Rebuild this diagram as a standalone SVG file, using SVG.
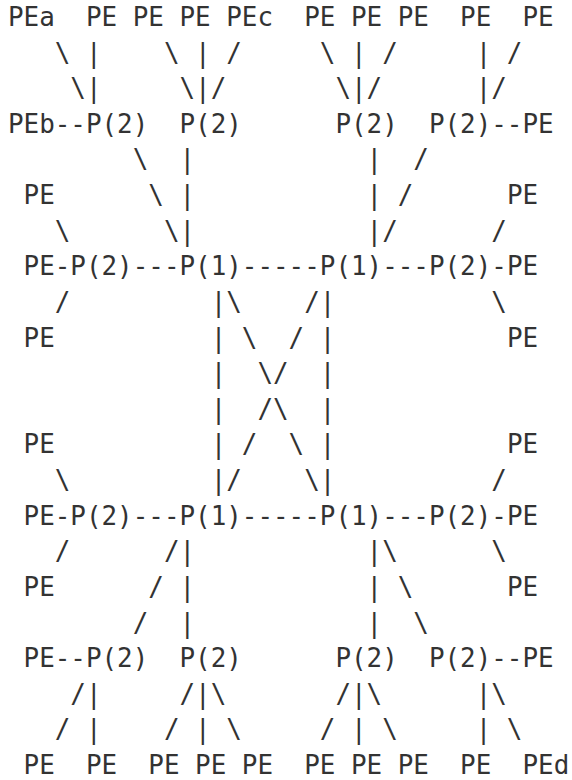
<svg xmlns="http://www.w3.org/2000/svg" width="572" height="780" viewBox="0 0 572 780">
  <style>
    text { font-family: "DejaVu Sans Mono", "Liberation Mono", monospace; font-size: 25.9px; fill: #333; white-space: pre; }
  </style>
  <rect width="572" height="780" fill="#fff"/>

  <!-- connectors: ASCII link characters on a 15.59px column grid -->
  <g id="connectors" xml:space="preserve">
    <!-- top fan-in -->
    <text x="54.77" y="61.62">\ |</text>
    <text x="163.9" y="61.62">\ | /</text>
    <text x="319.8" y="61.62">\ | /</text>
    <text x="475.7" y="61.62">| /</text>
    <text x="70.36" y="97.24">\|</text>
    <text x="179.49" y="97.24">\|/</text>
    <text x="335.39" y="97.24">\|/</text>
    <text x="475.7" y="97.24">|/</text>
    <text x="54.77" y="132.86">--</text>
    <text x="491.29" y="132.86">--</text>
    <!-- upper P(2) to P(1) -->
    <text x="132.72" y="168.48">\  |</text>
    <text x="366.57" y="168.48">|  /</text>
    <text x="148.31" y="204.1">\ |</text>
    <text x="366.57" y="204.1">| /</text>
    <text x="54.77" y="239.72">\</text>
    <text x="163.9" y="239.72">\|</text>
    <text x="366.57" y="239.72">|/</text>
    <text x="491.29" y="239.72">/</text>
    <!-- upper core links -->
    <text x="54.77" y="275.34">-</text>
    <text x="132.72" y="275.34">---</text>
    <text x="241.85" y="275.34">-----</text>
    <text x="382.16" y="275.34">---</text>
    <text x="491.29" y="275.34">-</text>
    <!-- cross between core rows -->
    <text x="54.77" y="310.96">/</text>
    <text x="210.67" y="310.96">|\    /|</text>
    <text x="491.29" y="310.96">\</text>
    <text x="210.67" y="346.58">| \  / |</text>
    <text x="210.67" y="382.2">|  \/  |</text>
    <text x="210.67" y="417.82">|  /\  |</text>
    <text x="210.67" y="453.44">| /  \ |</text>
    <text x="54.77" y="489.06">\</text>
    <text x="210.67" y="489.06">|/    \|</text>
    <text x="491.29" y="489.06">/</text>
    <!-- lower core links -->
    <text x="54.77" y="524.68">-</text>
    <text x="132.72" y="524.68">---</text>
    <text x="241.85" y="524.68">-----</text>
    <text x="382.16" y="524.68">---</text>
    <text x="491.29" y="524.68">-</text>
    <!-- lower P(1) to P(2) -->
    <text x="54.77" y="560.3">/</text>
    <text x="163.9" y="560.3">/|</text>
    <text x="366.57" y="560.3">|\</text>
    <text x="491.29" y="560.3">\</text>
    <text x="148.31" y="595.92">/ |</text>
    <text x="366.57" y="595.92">| \</text>
    <text x="132.72" y="631.54">/  |</text>
    <text x="366.57" y="631.54">|  \</text>
    <text x="54.77" y="667.16">--</text>
    <text x="491.29" y="667.16">--</text>
    <!-- bottom fan-out -->
    <text x="70.36" y="702.78">/|</text>
    <text x="179.49" y="702.78">/|\</text>
    <text x="335.39" y="702.78">/|\</text>
    <text x="475.7" y="702.78">|\</text>
    <text x="54.77" y="738.4">/ |</text>
    <text x="163.9" y="738.4">/ | \</text>
    <text x="319.8" y="738.4">/ | \</text>
    <text x="475.7" y="738.4">| \</text>
  </g>

  <!-- top row of PEs -->
  <g id="pe-a"><text x="8" y="26">PEa</text></g>
  <g id="pe-t1"><text x="85.95" y="26">PE</text></g>
  <g id="pe-t2"><text x="132.72" y="26">PE</text></g>
  <g id="pe-t3"><text x="179.49" y="26">PE</text></g>
  <g id="pe-c"><text x="226.26" y="26">PEc</text></g>
  <g id="pe-t4"><text x="304.21" y="26">PE</text></g>
  <g id="pe-t5"><text x="350.98" y="26">PE</text></g>
  <g id="pe-t6"><text x="397.75" y="26">PE</text></g>
  <g id="pe-t7"><text x="460.11" y="26">PE</text></g>
  <g id="pe-t8"><text x="522.47" y="26">PE</text></g>

  <!-- upper P(2) row -->
  <g id="pe-b"><text x="8" y="132.86">PEb</text></g>
  <g id="p2-u1"><text x="85.95" y="132.86">P(2)</text></g>
  <g id="p2-u2"><text x="179.49" y="132.86">P(2)</text></g>
  <g id="p2-u3"><text x="335.39" y="132.86">P(2)</text></g>
  <g id="p2-u4"><text x="428.93" y="132.86">P(2)</text></g>
  <g id="pe-u-r"><text x="522.47" y="132.86">PE</text></g>

  <!-- upper core row -->
  <g id="pe-l1"><text x="23.59" y="204.1">PE</text></g>
  <g id="pe-r1"><text x="506.88" y="204.1">PE</text></g>
  <g id="pe-l2"><text x="23.59" y="275.34">PE</text></g>
  <g id="p2-l-up"><text x="70.36" y="275.34">P(2)</text></g>
  <g id="p1-ul"><text x="179.49" y="275.34">P(1)</text></g>
  <g id="p1-ur"><text x="319.8" y="275.34">P(1)</text></g>
  <g id="p2-r-up"><text x="428.93" y="275.34">P(2)</text></g>
  <g id="pe-r2"><text x="506.88" y="275.34">PE</text></g>
  <g id="pe-l3"><text x="23.59" y="346.58">PE</text></g>
  <g id="pe-r3"><text x="506.88" y="346.58">PE</text></g>

  <!-- lower core row -->
  <g id="pe-l4"><text x="23.59" y="453.44">PE</text></g>
  <g id="pe-r4"><text x="506.88" y="453.44">PE</text></g>
  <g id="pe-l5"><text x="23.59" y="524.68">PE</text></g>
  <g id="p2-l-lo"><text x="70.36" y="524.68">P(2)</text></g>
  <g id="p1-ll"><text x="179.49" y="524.68">P(1)</text></g>
  <g id="p1-lr"><text x="319.8" y="524.68">P(1)</text></g>
  <g id="p2-r-lo"><text x="428.93" y="524.68">P(2)</text></g>
  <g id="pe-r5"><text x="506.88" y="524.68">PE</text></g>
  <g id="pe-l6"><text x="23.59" y="595.92">PE</text></g>
  <g id="pe-r6"><text x="506.88" y="595.92">PE</text></g>

  <!-- lower P(2) row -->
  <g id="pe-d-l"><text x="23.59" y="667.16">PE</text></g>
  <g id="p2-d1"><text x="85.95" y="667.16">P(2)</text></g>
  <g id="p2-d2"><text x="179.49" y="667.16">P(2)</text></g>
  <g id="p2-d3"><text x="335.39" y="667.16">P(2)</text></g>
  <g id="p2-d4"><text x="428.93" y="667.16">P(2)</text></g>
  <g id="pe-d-r"><text x="522.47" y="667.16">PE</text></g>

  <!-- bottom row of PEs -->
  <g id="pe-b1"><text x="23.59" y="774.02">PE</text></g>
  <g id="pe-b2"><text x="85.95" y="774.02">PE</text></g>
  <g id="pe-b3"><text x="148.31" y="774.02">PE</text></g>
  <g id="pe-b4"><text x="195.08" y="774.02">PE</text></g>
  <g id="pe-b5"><text x="241.85" y="774.02">PE</text></g>
  <g id="pe-b6"><text x="304.21" y="774.02">PE</text></g>
  <g id="pe-b7"><text x="350.98" y="774.02">PE</text></g>
  <g id="pe-b8"><text x="397.75" y="774.02">PE</text></g>
  <g id="pe-b9"><text x="460.11" y="774.02">PE</text></g>
  <g id="pe-d"><text x="522.47" y="774.02">PEd</text></g>
</svg>
